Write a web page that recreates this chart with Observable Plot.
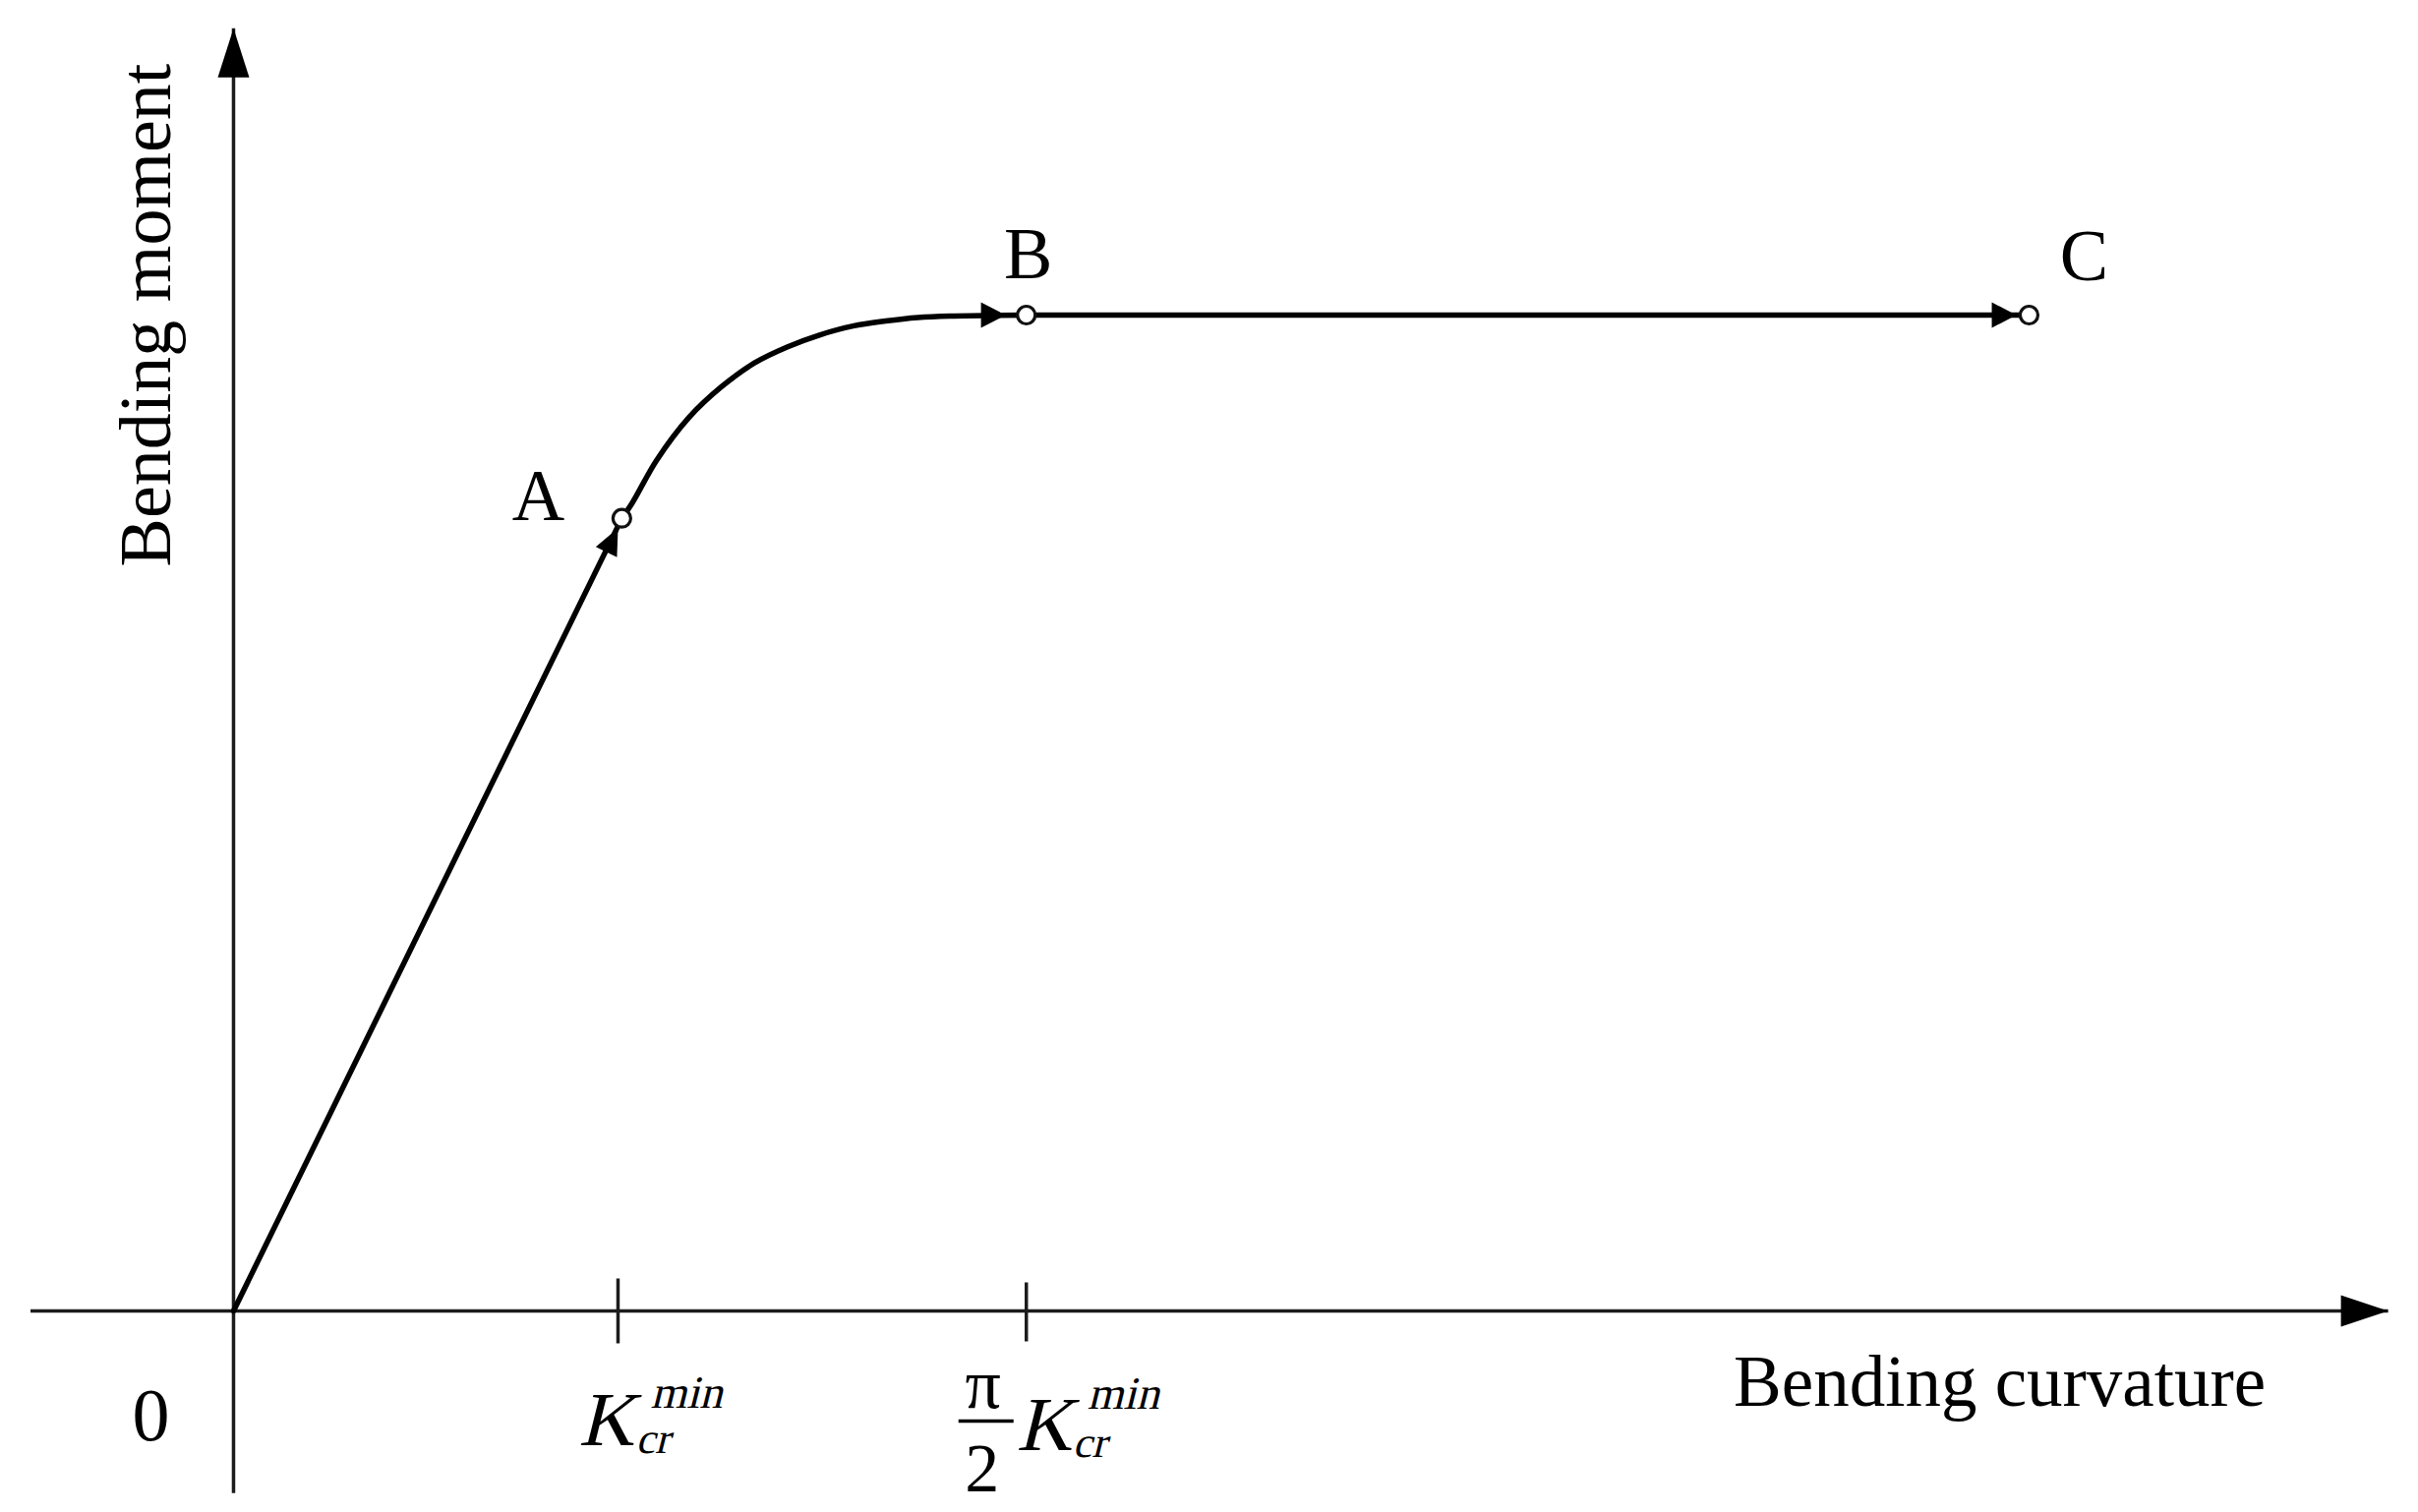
<!DOCTYPE html>
<html>
<head>
<meta charset="utf-8">
<script src="https://cdn.jsdelivr.net/npm/d3@7"></script>
<script src="https://cdn.jsdelivr.net/npm/@observablehq/plot@0.6"></script>
<style>
  html, body { margin: 0; padding: 0; background: #ffffff; }
  #chart svg { display: block; }
</style>
</head>
<body>
<div id="chart"></div>
<script>
// ---- data (abstract units: x in K_cr^min, y in plateau moment) ----
const elasticX = [0, 1.010];
const elasticY = [0, 0.796];
const transitionX = [1.010, 1.038, 1.100, 1.184, 1.269, 1.355, 1.440, 1.524, 1.611, 1.696, 1.780, 1.864, 2.062];
const transitionY = [0.796, 0.812, 0.854, 0.897, 0.928, 0.952, 0.968, 0.980, 0.989, 0.994, 0.9975, 0.999, 1.000];
const plateauX = [2.062, 4.670];
const plateauY = [1.000, 1.000];

const pointLabels = ["A", "B", "C"];
const pointX = [1.010, 2.062, 4.670];
const pointY = [0.796, 1.000, 1.000];

// arrowhead tips along the path
const arrowTipX = [1.000, 2.008, 4.637];
const arrowTipY = [0.786, 1.000, 1.000];

const tickX = [1.000, 2.062];
const xAxisExtent = [-0.528, 5.604];
const yAxisExtent = [-0.183, 1.288];

const xTitle = "Bending curvature";
const yTitle = "Bending moment";
const originLabel = "0";
const italicPieces = ["K", "min", "cr"];

// ---- helpers ----
const toRows = (xs, ys) => xs.map((x, i) => ({x, y: ys[i]}));
function arrowHead(angleDeg, len, half) {
  const a = angleDeg * Math.PI / 180, c = Math.cos(a), s = Math.sin(a);
  return {
    draw(ctx) {
      const bx = -len * c, by = -len * s;
      const px = -s * half, py = c * half;
      ctx.moveTo(0, 0);
      ctx.lineTo(bx + px, by + py);
      ctx.lineTo(bx - px, by - py);
      ctx.closePath();
    }
  };
}
const segment = (dx1, dy1, dx2, dy2) => ({
  draw(ctx) { ctx.moveTo(dx1, dy1); ctx.lineTo(dx2, dy2); }
});

const serif = "Liberation Serif, Times New Roman, serif";
const axisColor = "#1c1c1c";
const tick1 = [tickX[0]];
const tick2 = [tickX[1]];

const chart = Plot.plot({
  width: 2459,
  height: 1538,
  marginLeft: 0, marginRight: 0, marginTop: 0, marginBottom: 0,
  style: {background: "#ffffff"},
  x: {axis: null, domain: [-0.6061, 5.6829]},
  y: {axis: null, domain: [-0.2024, 1.3159]},
  marks: [
    // axes
    Plot.link([0], {x1: () => xAxisExtent[0], x2: () => xAxisExtent[1], y1: () => 0, y2: () => 0,
      stroke: axisColor, strokeWidth: 3.5}),
    Plot.link([0], {x1: () => 0, x2: () => 0, y1: () => yAxisExtent[0], y2: () => yAxisExtent[1],
      stroke: axisColor, strokeWidth: 3.5}),
    Plot.dot([0], {x: () => xAxisExtent[1], y: () => 0, symbol: arrowHead(0, 48, 16), fill: "#000", stroke: "none"}),
    Plot.dot([0], {x: () => 0, y: () => yAxisExtent[1], symbol: arrowHead(-90, 50, 16), fill: "#000", stroke: "none"}),
    // ticks
    Plot.dot(tick1, {x: d => d, y: () => 0, symbol: segment(0, -33, 0, 33), stroke: axisColor, strokeWidth: 3.5, fill: "none"}),
    Plot.dot(tick2, {x: d => d, y: () => 0, symbol: segment(0, -29, 0, 31), stroke: axisColor, strokeWidth: 3.5, fill: "none"}),
    // curve
    Plot.line(toRows(elasticX, elasticY), {x: "x", y: "y", stroke: "#000", strokeWidth: 5.5}),
    Plot.line(toRows(transitionX, transitionY), {x: "x", y: "y", curve: "catmull-rom", stroke: "#000", strokeWidth: 5.5}),
    Plot.line(toRows(plateauX, plateauY), {x: "x", y: "y", stroke: "#000", strokeWidth: 5.5}),
    // arrowheads
    Plot.dot([0], {x: () => arrowTipX[0], y: () => arrowTipY[0], symbol: arrowHead(-64, 27, 12), fill: "#000", stroke: "none"}),
    Plot.dot([1], {x: () => arrowTipX[1], y: () => arrowTipY[1], symbol: arrowHead(0, 25, 13), fill: "#000", stroke: "none"}),
    Plot.dot([2], {x: () => arrowTipX[2], y: () => arrowTipY[2], symbol: arrowHead(0, 25, 13), fill: "#000", stroke: "none"}),
    // points
    Plot.dot(pointLabels, {x: (d, i) => pointX[i], y: (d, i) => pointY[i], r: 9, fill: "#fff", stroke: "#111", strokeWidth: 3.2}),
    // point labels
    Plot.text(["A"], {x: () => pointX[0], y: () => pointY[0], text: d => d, dx: -85, dy: 2, lineAnchor: "bottom",
      fontFamily: serif, fontSize: 74, fill: "#000"}),
    Plot.text(["B"], {x: () => pointX[1], y: () => pointY[1], text: d => d, dx: 2, dy: -37, lineAnchor: "bottom",
      fontFamily: serif, fontSize: 74, fill: "#000"}),
    Plot.text(["C"], {x: () => pointX[2], y: () => pointY[2], text: d => d, dx: 56, dy: -35, lineAnchor: "bottom",
      fontFamily: serif, fontSize: 74, fill: "#000"}),
    // origin label
    Plot.text([originLabel], {x: () => 0, y: () => 0, text: d => d, dx: -84, dy: 132, lineAnchor: "bottom",
      fontFamily: serif, fontSize: 76, fill: "#000"}),
    // tick label 1: K_cr^min
    Plot.text(["K"], {x: () => tickX[0], y: () => 0, text: d => d, textAnchor: "start", dx: -40, dy: 137, lineAnchor: "bottom",
      fontFamily: serif, fontSize: 78, fill: "#000"}),
    Plot.text(["min"], {x: () => tickX[0], y: () => 0, text: d => d, textAnchor: "start", dx: 33, dy: 99, lineAnchor: "bottom",
      fontFamily: serif, fontSize: 47, fill: "#000"}),
    Plot.text(["cr"], {x: () => tickX[0], y: () => 0, text: d => d, textAnchor: "start", dx: 18, dy: 145, lineAnchor: "bottom",
      fontFamily: serif, fontSize: 44, fill: "#000"}),
    // tick label 2: (π/2) K_cr^min
    Plot.text(["π"], {x: () => tickX[1], y: () => 0, text: d => d, textAnchor: "middle", dx: -44, dy: 99, lineAnchor: "bottom",
      fontFamily: serif, fontSize: 72, fill: "#000"}),
    Plot.dot([0], {x: () => tickX[1], y: () => 0, symbol: segment(-69, 112, -13, 112), stroke: "#000", strokeWidth: 3.5, fill: "none"}),
    Plot.text(["2"], {x: () => tickX[1], y: () => 0, text: d => d, textAnchor: "middle", dx: -45, dy: 184, lineAnchor: "bottom",
      fontFamily: serif, fontSize: 70, fill: "#000"}),
    Plot.text(["K"], {x: () => tickX[1], y: () => 0, text: d => d, textAnchor: "start", dx: -10, dy: 142, lineAnchor: "bottom",
      fontFamily: serif, fontSize: 78, fill: "#000"}),
    Plot.text(["min"], {x: () => tickX[1], y: () => 0, text: d => d, textAnchor: "start", dx: 62, dy: 100, lineAnchor: "bottom",
      fontFamily: serif, fontSize: 47, fill: "#000"}),
    Plot.text(["cr"], {x: () => tickX[1], y: () => 0, text: d => d, textAnchor: "start", dx: 47, dy: 149, lineAnchor: "bottom",
      fontFamily: serif, fontSize: 44, fill: "#000"}),
    // axis titles
    Plot.text([xTitle], {x: () => xAxisExtent[1], y: () => 0, text: d => d, textAnchor: "middle", dx: -395, dy: 97, lineAnchor: "bottom",
      fontFamily: serif, fontSize: 73, fill: "#000"}),
    Plot.text([yTitle], {x: () => 0, y: () => 1, text: d => d, textAnchor: "middle", rotate: -90, dx: -64, dy: 0, lineAnchor: "bottom",
      fontFamily: serif, fontSize: 74, fill: "#000"})
  ]
});

// Slant the math symbols (serif italic face is not installed, so shear the serif upright face)
d3.select(chart).selectAll("text").each(function() {
  if (!italicPieces.includes(this.textContent)) return;
  const el = d3.select(this);
  let t = el.attr("transform");
  if (!t) {
    const x = +el.attr("x") || 0, y = +el.attr("y") || 0;
    el.attr("x", null).attr("y", null);
    t = `translate(${x},${y})`;
  }
  el.attr("transform", `${t} skewX(-14)`);
});

document.getElementById("chart").appendChild(chart);
</script>
</body>
</html>
